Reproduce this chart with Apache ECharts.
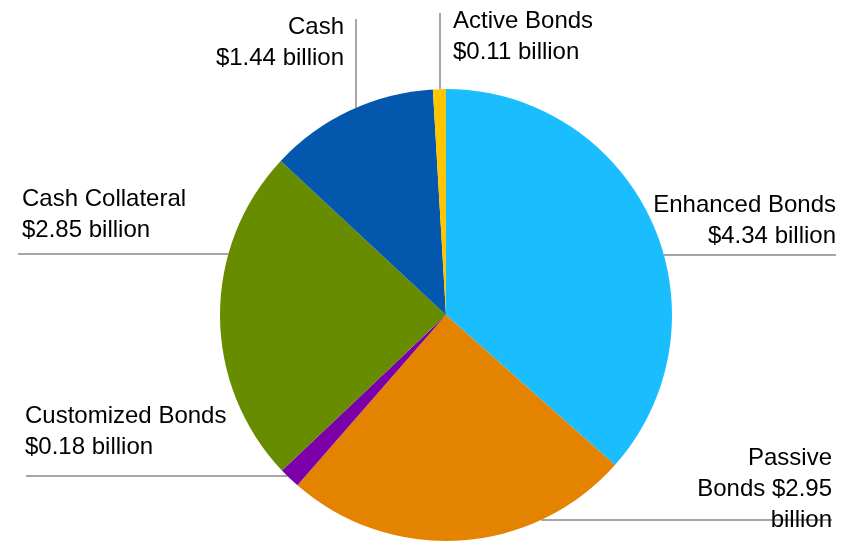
<!DOCTYPE html>
<html>
<head>
<meta charset="utf-8">
<title>Portfolio allocation</title>
<script src="https://cdn.jsdelivr.net/npm/echarts@6/dist/echarts.min.js"></script>
<style>
  html, body { margin: 0; padding: 0; background: #ffffff; }
  #chart { width: 854px; height: 544px; }
</style>
</head>
<body>
<div id="chart"></div>
<script>
// Holdings, in billions of dollars, clockwise from 12 o'clock
const categories = ['Enhanced Bonds', 'Passive Bonds', 'Customized Bonds', 'Cash Collateral', 'Cash', 'Active Bonds'];
const values = [4.34, 2.95, 0.18, 2.85, 1.44, 0.11];
// Label text as printed, with its line breaks
const labelTexts = [
  'Enhanced Bonds\n$4.34 billion',
  'Passive\nBonds $2.95\nbillion',
  'Customized Bonds\n$0.18 billion',
  'Cash Collateral\n$2.85 billion',
  'Cash\n$1.44 billion',
  'Active Bonds\n$0.11 billion'
];

const sliceColors = ['#1abeff', '#e38300', '#7b00a9', '#688c00', '#0358ad', '#ffc600'];

const CX = 446, CY = 315, R = 226;

// Where each label block sits and how its leader line runs
// (h: horizontal line at y = at, running to x = to; v: vertical line at x = at, running to y = to)
const labelSpots = [
  { x: 836, y: 190, align: 'right', axis: 'h', at: 255, to: 836, side: 1 },
  { x: 832, y: 443, align: 'right', axis: 'h', at: 520, to: 832, side: 1 },
  { x: 25,  y: 401, align: 'left',  axis: 'h', at: 476, to: 26,  side: -1 },
  { x: 22,  y: 184, align: 'left',  axis: 'h', at: 254, to: 18,  side: -1 },
  { x: 344, y: 12,  align: 'right', axis: 'v', at: 356, to: 19,  side: -1 },
  { x: 453, y: 6,   align: 'left',  axis: 'v', at: 440, to: 13,  side: -1 }
];

// Point on the pie rim where the leader line meets it
function rimPoint(spot) {
  if (spot.axis === 'h') {
    const dy = spot.at - CY;
    const dx = Math.sqrt(Math.max(R * R - dy * dy, 0));
    return [CX + spot.side * dx, spot.at];
  }
  const dx = spot.at - CX;
  const dy = Math.sqrt(Math.max(R * R - dx * dx, 0));
  return [spot.at, CY + spot.side * dy];
}

const chart = echarts.init(document.getElementById('chart'), null, { renderer: 'canvas' });

chart.setOption({
  backgroundColor: '#ffffff',
  animation: false,
  series: [{
    type: 'pie',
    center: [CX, CY],
    radius: R,
    startAngle: 90,
    clockwise: true,
    avoidLabelOverlap: false,
    itemStyle: { borderWidth: 0 },
    emphasis: { disabled: true },
    data: categories.map((name, i) => ({
      name: name,
      value: values[i],
      itemStyle: { color: sliceColors[i] }
    })),
    label: {
      show: true,
      position: 'outside',
      formatter: (p) => labelTexts[p.dataIndex],
      fontFamily: '"Liberation Sans", Arial, sans-serif',
      fontSize: 24,
      lineHeight: 31,
      color: '#000000'
    },
    labelLine: {
      show: true,
      lineStyle: { color: '#a6a6a6', width: 2 }
    },
    labelLayout: function (params) {
      const spot = labelSpots[params.dataIndex];
      const start = rimPoint(spot);
      const end = spot.axis === 'h' ? [spot.to, spot.at] : [spot.at, spot.to];
      const mid = [(start[0] + end[0]) / 2, (start[1] + end[1]) / 2];
      return {
        x: spot.x,
        y: spot.y,
        align: spot.align,
        verticalAlign: 'top',
        labelLinePoints: [start, mid, end]
      };
    }
  }]
});
</script>
</body>
</html>
